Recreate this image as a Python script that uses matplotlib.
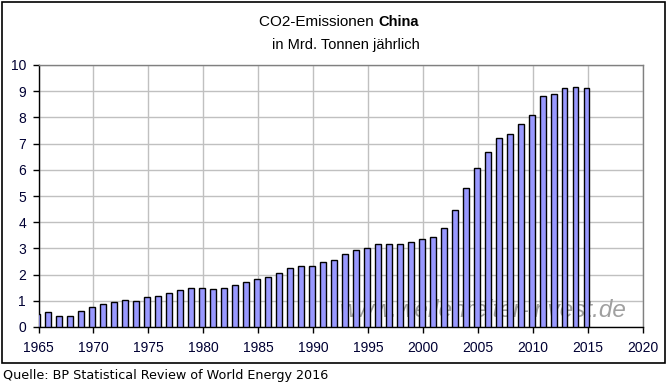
import matplotlib
matplotlib.use("Agg")
import matplotlib.pyplot as plt
from matplotlib.patches import Rectangle

years = list(range(1965, 2016))
emissions = [0.51, 0.56, 0.43, 0.43, 0.60, 0.75, 0.86, 0.97, 1.02, 1.00,
             1.13, 1.17, 1.28, 1.40, 1.47, 1.47, 1.46, 1.50, 1.59, 1.73,
             1.82, 1.92, 2.05, 2.24, 2.31, 2.31, 2.47, 2.55, 2.78, 2.94,
             3.00, 3.15, 3.15, 3.15, 3.26, 3.34, 3.45, 3.78, 4.45, 5.30,
             6.08, 6.68, 7.23, 7.38, 7.73, 8.10, 8.80, 8.90, 9.12, 9.16,
             9.12]
x_ticks = list(range(1965, 2021, 5))
y_ticks = list(range(0, 11))

W, H = 672, 383
fig = plt.figure(figsize=(W / 100, H / 100), dpi=100)
fig.patch.set_facecolor("white")

# outer frame
fig.add_artist(Rectangle((1.5 / W, 1 - 362.5 / H), 663.5 / W, 361 / H,
                         transform=fig.transFigure, fill=False,
                         edgecolor="black", linewidth=1.2))

ax = fig.add_axes([38.5 / W, 1 - 327 / H, (643 - 38.5) / W, (327 - 65) / H])
ax.set_axisbelow(True)
ax.bar([y - 0.12 for y in years], emissions, width=0.5, color="#9999FF",
       edgecolor="black", linewidth=1.0, zorder=3)

ax.set_xlim(1965, 2020)
ax.set_ylim(0, 10)
ax.set_xticks(x_ticks)
ax.set_yticks(y_ticks)
ax.grid(True, color="#C0C0C0", linewidth=1.0, zorder=0)
ax.tick_params(axis="both", direction="out", length=4, width=1.0,
               labelsize=10, labelcolor="#000033")
ax.tick_params(axis="x", pad=6)
ax.tick_params(axis="y", pad=5)
for lab in ax.get_xticklabels() + ax.get_yticklabels():
    lab.set_family("Liberation Sans")
for s in ["top", "right"]:
    ax.spines[s].set_color("#808080")
    ax.spines[s].set_linewidth(1.0)
for s in ["left", "bottom"]:
    ax.spines[s].set_color("black")
    ax.spines[s].set_linewidth(1.0)

# watermark
ax.text((627 - 38.5) / (643 - 38.5), (327 - 322) / (327 - 65),
        "www.wellenreiter-invest.de", transform=ax.transAxes,
        ha="right", va="bottom", fontsize=17.5, style="italic",
        color="#A0A0A0", family="Liberation Sans", zorder=1)

fig.text(378 / W, 1 - 22 / H, "CO2-Emissionen ", ha="right", va="center",
         fontsize=11, family="Liberation Sans")
fig.text(378 / W, 1 - 22 / H, "China", ha="left", va="center",
         fontsize=10.5, fontweight="bold", family="Liberation Sans")
fig.text(346 / W, 1 - 45 / H, "in Mrd. Tonnen jährlich", ha="center",
         va="center", fontsize=10.5, family="Liberation Sans")

fig.text(3 / W, 1 - 375 / H, "Quelle: BP Statistical Review of World Energy 2016",
         ha="left", va="center", fontsize=9.2, family="DejaVu Sans")

fig.savefig("out.png", dpi=100)
